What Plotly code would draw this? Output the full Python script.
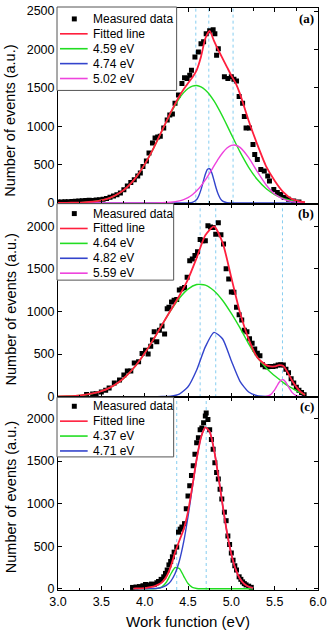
import plotly.graph_objects as go
from plotly.subplots import make_subplots

# ---------------- panel (a) ----------------
wf_a = [3.00, 3.04, 3.08, 3.12, 3.16, 3.20, 3.24, 3.28, 3.32, 3.36, 3.40, 3.44, 3.48, 3.52,
        3.56, 3.60, 3.64, 3.68, 3.72, 3.76, 3.80, 3.84, 3.88, 3.92, 3.95, 3.98, 4.02, 4.05,
        4.09, 4.12, 4.15, 4.18, 4.22, 4.26, 4.29, 4.32, 4.35, 4.39, 4.43, 4.46, 4.49, 4.52,
        4.54, 4.58, 4.62, 4.65, 4.68, 4.71, 4.75, 4.79, 4.81, 4.83, 4.85, 4.92, 4.96, 5.00,
        5.03, 5.06, 5.09, 5.13, 5.15, 5.17, 5.21, 5.25, 5.27, 5.30, 5.34, 5.38, 5.42, 5.44,
        5.49, 5.53, 5.57, 5.61, 5.66, 5.72, 5.78]
counts_a = [12, 12, 14, 15, 18, 20, 25, 28, 30, 35, 30, 38, 40, 48,
            56, 75, 90, 105, 130, 170, 220, 265, 300, 350, 390, 475, 545, 650,
            780, 845, 860, 870, 975, 1080, 1145, 1160, 1300, 1405, 1555, 1630, 1620, 1665,
            1730, 1900, 1965, 2075, 2100, 2205, 2245, 2255, 2205, 1925, 2010, 1645, 1620, 1645,
            1610, 1590, 1385, 1300, 1125, 975, 975, 760, 630, 565, 435, 415, 350, 285,
            175, 135, 110, 70, 47, 26, 13]

grid_a = [3.0, 3.1, 3.2, 3.3, 3.4, 3.5, 3.6, 3.7, 3.8, 3.9, 4.0, 4.1, 4.2, 4.3, 4.4,
          4.45, 4.5, 4.55, 4.6, 4.65, 4.7, 4.75, 4.8, 4.85, 4.9, 4.95, 5.0, 5.05, 5.1,
          5.2, 5.3, 5.4, 5.5, 5.6, 5.7, 5.8, 5.85]
fit_a = [1, 1, 3, 7, 16, 34, 66, 121, 207, 333, 502, 708, 942, 1176, 1389,
         1480, 1560, 1634, 1731, 1906, 2143, 2243, 2110, 1990, 1880, 1770, 1660, 1560, 1420,
         1070, 760, 480, 290, 140, 50, 18, 10]
green_a = [0, 1, 3, 7, 16, 34, 66, 121, 207, 333, 502, 708, 940, 1168, 1363,
           1437, 1491, 1522, 1530, 1512, 1472, 1410, 1328, 1232, 1125, 1010, 893, 777, 665,
           464, 304, 187, 108, 58, 30, 14, 9]
magenta_a = [0, 0, 0, 0, 0, 0, 0, 0, 0, 0, 0, 0, 2, 8, 26,
             43, 69, 106, 157, 221, 299, 388, 481, 573, 654, 715, 749, 752, 724,
             590, 406, 236, 115, 48, 17, 5, 3]
blue_x_a = [3.0, 4.0, 4.4, 4.45, 4.5, 4.55, 4.6, 4.625, 4.65, 4.675, 4.7, 4.725, 4.75,
            4.775, 4.8, 4.825, 4.85, 4.875, 4.9, 4.95, 5.0, 5.3, 5.85]
blue_a = [0, 0, 0, 0, 0.5, 6, 44, 94, 173, 273, 372, 438, 445,
          389, 294, 191, 108, 52, 22, 2, 0, 0, 0]
centers_a = [4.59, 4.74, 5.02]

# ---------------- panel (b) ----------------
wf_b = [3.33, 3.40, 3.44, 3.50, 3.55, 3.59, 3.65, 3.71, 3.76, 3.80, 3.84, 3.88, 3.93, 3.97,
        4.01, 4.04, 4.07, 4.09, 4.11, 4.14, 4.17, 4.20, 4.23, 4.26, 4.28, 4.31, 4.34, 4.37,
        4.40, 4.43, 4.46, 4.49, 4.52, 4.55, 4.58, 4.61, 4.64, 4.67, 4.70, 4.73, 4.76, 4.79,
        4.82, 4.85, 4.88, 4.91, 4.94, 4.97, 5.00, 5.03, 5.06, 5.09, 5.12, 5.15, 5.18, 5.21,
        5.24, 5.27, 5.30, 5.33, 5.36, 5.39, 5.42, 5.45, 5.48, 5.51, 5.54, 5.57, 5.60, 5.63,
        5.66, 5.69, 5.72, 5.75, 5.78, 5.81, 5.84]
counts_b = [25, 30, 35, 55, 75, 100, 160, 195, 255, 300, 300, 395, 410, 505,
            545, 500, 590, 665, 760, 645, 780, 830, 735, 1030, 1050, 1110, 1130, 1140,
            1250, 1265, 1280, 1400, 1595, 1615, 1655, 1700, 1845, 1830, 1830, 2005, 1990, 1985,
            1905, 2040, 1900, 1790, 1500, 1380, 1227, 1225, 1050, 960, 900, 780, 760, 680,
            625, 560, 510, 480, 375, 350, 350, 355, 355, 360, 370, 375, 370, 320,
            280, 210, 160, 110, 75, 50, 23]

grid_b = [3.0, 3.1, 3.2, 3.3, 3.4, 3.5, 3.6, 3.7, 3.8, 3.9, 4.0, 4.1, 4.2, 4.3, 4.4,
          4.5, 4.6, 4.7, 4.8, 4.9, 5.0, 5.1, 5.2, 5.3, 5.4, 5.45, 5.5, 5.55, 5.6, 5.65,
          5.7, 5.75, 5.8, 5.85]
fit_b = [2, 5, 10, 20, 37, 64, 106, 168, 255, 368, 508, 669, 842, 1013, 1184,
         1377, 1628, 1893, 1997, 1804, 1396, 986, 674, 460, 370, 355, 355, 370, 360, 285,
         190, 115, 55, 20]
green_b = [2, 5, 10, 20, 37, 64, 106, 168, 255, 368, 508, 669, 841, 1008, 1154,
           1261, 1315, 1309, 1243, 1128, 976, 806, 620, 460, 340, 290, 245, 205, 165, 130,
           100, 70, 45, 25]
blue_b = [0, 0, 0, 0, 0, 0, 0, 0, 0, 0, 0, 0, 1, 5, 30,
          116, 313, 584, 754, 676, 420, 180, 54, 11, 2, 0, 0, 0, 0, 0,
          0, 0, 0, 0]
magenta_x_b = [3.0, 5.3, 5.4, 5.45, 5.5, 5.525, 5.55, 5.575, 5.6, 5.625, 5.65, 5.675,
               5.7, 5.75, 5.8, 5.85]
magenta_b = [0, 0, 3, 21, 79, 123, 166, 195, 198, 174, 132, 87,
             50, 11, 1, 0]
centers_b = [4.64, 4.82, 5.59]

# ---------------- panel (c) ----------------
wf_c = [3.86, 3.90, 3.94, 3.98, 4.01, 4.05, 4.08, 4.11, 4.14, 4.16, 4.19, 4.22, 4.24, 4.26,
        4.28, 4.30, 4.32, 4.34, 4.37, 4.39, 4.41, 4.43, 4.46, 4.48, 4.50, 4.52, 4.54, 4.56,
        4.58, 4.60, 4.62, 4.64, 4.66, 4.68, 4.70, 4.71, 4.73, 4.75, 4.77, 4.79, 4.81, 4.83,
        4.85, 4.87, 4.89, 4.92, 4.94, 4.96, 4.98, 5.00, 5.02, 5.04, 5.06, 5.09, 5.11, 5.13,
        5.15, 5.17, 5.20, 5.23]
counts_c = [15, 20, 25, 35, 50, 45, 55, 50, 70, 85, 110, 140, 180, 220,
            280, 320, 375, 430, 490, 665, 700, 725, 765, 940, 1090, 1210, 1330, 1445,
            1580, 1715, 1775, 1870, 1890, 1950, 2030, 2065, 1990, 1870, 1755, 1640, 1480, 1365,
            1290, 1170, 1055, 900, 800, 620, 520, 420, 335, 270, 220, 140, 110, 80,
            60, 45, 30, 16]

grid_c = [3.87, 3.9, 4.0, 4.05, 4.1, 4.15, 4.2, 4.25, 4.3, 4.35, 4.4, 4.45, 4.5, 4.55,
          4.6, 4.65, 4.7, 4.75, 4.8, 4.85, 4.9, 4.95, 5.0, 5.05, 5.1, 5.15, 5.2, 5.25]
fit_c = [2, 3, 8, 15, 25, 45, 75, 140, 257, 424, 564, 699, 907, 1204,
         1525, 1779, 1896, 1846, 1637, 1326, 980, 661, 406, 228, 117, 55, 23, 9]
green_c = [0, 0, 0, 0, 0.5, 4, 22, 76, 170, 248, 238, 149, 61, 16,
           3, 0, 0, 0, 0, 0, 0, 0, 0, 0, 0, 0, 0, 0]
blue_c = [0, 0, 0, 1, 2, 6, 16, 39, 87, 176, 326, 550, 846, 1188,
          1522, 1779, 1896, 1846, 1637, 1326, 980, 661, 406, 228, 117, 55, 23, 9]
centers_c = [4.37, 4.71]

RED = "#ff1f3d"
GREEN = "#22dd22"
BLUE = "#3344cc"
MAGENTA = "#ee44dd"
DOT = "#86cdf0"
FONT = "Arial, Liberation Sans, sans-serif"

W, H = 331, 633
L, R, T, B = 58, 10, 4, 43


def px_x(px):
    return (px - L) / (W - L - R)


def px_y(py):
    return (H - B - py) / (H - T - B)


fig = make_subplots(rows=3, cols=1, shared_xaxes=True, vertical_spacing=0)


def line(x, y, color, width):
    return go.Scatter(x=x, y=y, mode="lines", line=dict(color=color, width=width, shape="spline", smoothing=0.6),
                      showlegend=False, hoverinfo="skip")


def pts(x, y):
    return go.Scatter(x=x, y=y, mode="markers", marker=dict(symbol="square", size=5, color="black"),
                      showlegend=False)


panels = [
    (1, wf_a, counts_a, [(grid_a, green_a, GREEN), (blue_x_a, blue_a, BLUE), (grid_a, magenta_a, MAGENTA),
                         (grid_a, fit_a, RED)], centers_a),
    (2, wf_b, counts_b, [(grid_b, green_b, GREEN), (grid_b, blue_b, BLUE), (magenta_x_b, magenta_b, MAGENTA),
                         (grid_b, fit_b, RED)], centers_b),
    (3, wf_c, counts_c, [(grid_c, green_c, GREEN), (grid_c, blue_c, BLUE), (grid_c, fit_c, RED)], centers_c),
]

for row, wx, wy, curves, centers in panels:
    fig.add_trace(pts(wx, wy), row=row, col=1)
    for cx, cy, col in curves:
        fig.add_trace(line(cx, cy, col, 1.8 if col == RED else 1.4), row=row, col=1)
    for c in centers:
        fig.add_vline(x=c, row=row, col=1, line=dict(color=DOT, width=1, dash="dot"), layer="below")

# panel geometry in pixels
doms = [[px_y(201), 1], [px_y(396), px_y(201)], [0, px_y(396)]]
yranges = [[-10, 2540], [-8, 2264], [-15, 2250]]

axis_common = dict(showline=True, linecolor="black", linewidth=1, mirror="ticks", ticks="inside",
                   ticklen=4, tickcolor="black", showgrid=False, zeroline=False,
                   tickfont=dict(family=FONT, size=12.5, color="black"))

for i in range(3):
    fig.update_yaxes(domain=doms[i], range=yranges[i], dtick=500, tick0=0,
                     row=i + 1, col=1, **axis_common)
    fig.update_xaxes(range=[3.0, 6.0], dtick=0.5, tick0=3.0, tickformat=".1f",
                     minor=dict(ticks="inside", dtick=0.25, ticklen=2.5, tickcolor="black"),
                     row=i + 1, col=1, **axis_common)

fig.update_xaxes(ticklabelstandoff=0, row=3, col=1)

# hand drawn legends
legends = [
    (3, 15, 87, 178, ["Fitted line"] + [f"{c:.2f} eV" for c in centers_a], [RED, GREEN, BLUE, MAGENTA]),
    (201, 211, 278, 175, ["Fitted line"] + [f"{c:.2f} eV" for c in centers_b], [RED, GREEN, BLUE, MAGENTA]),
    (396, 405, 456, 175, ["Fitted line"] + [f"{c:.2f} eV" for c in centers_c], [RED, GREEN, BLUE]),
]
shapes = []
annots = []
for top, first, bot, right, labels, colors in legends:
    shapes.append(dict(type="rect", xref="paper", yref="paper", x0=px_x(57), x1=px_x(right),
                       y0=px_y(bot), y1=px_y(top), line=dict(color="#555", width=1), fillcolor="white",
                       layer="above"))
    shapes.append(dict(type="rect", xref="paper", yref="paper", x0=px_x(72), x1=px_x(77),
                       y0=px_y(first + 2.5), y1=px_y(first - 2.5), line=dict(width=0), fillcolor="black",
                       layer="above"))
    annots.append(dict(xref="paper", yref="paper", x=px_x(91), y=px_y(first), text="Measured data",
                       showarrow=False, xanchor="left", yanchor="middle",
                       font=dict(family=FONT, size=12, color="black")))
    for k, (lab, col) in enumerate(zip(labels, colors)):
        yy = first + 15 * (k + 1)
        shapes.append(dict(type="line", xref="paper", yref="paper", x0=px_x(60), x1=px_x(88),
                           y0=px_y(yy), y1=px_y(yy), line=dict(color=col, width=1.6), layer="above"))
        annots.append(dict(xref="paper", yref="paper", x=px_x(91), y=px_y(yy), text=lab,
                           showarrow=False, xanchor="left", yanchor="middle",
                           font=dict(family=FONT, size=12, color="black")))

for lab, yy in zip(["(a)", "(b)", "(c)"], [15, 211, 405]):
    annots.append(dict(xref="paper", yref="paper", x=px_x(319), y=px_y(yy), text=f"<b>{lab}</b>",
                       showarrow=False, xanchor="right", yanchor="middle",
                       font=dict(family="Times New Roman, Liberation Serif, serif", size=13, color="black")))

# axis titles
for yy in [118, 308, 497]:
    annots.append(dict(xref="paper", yref="paper", x=px_x(10), y=px_y(yy), text="Number of events (a.u.)",
                       showarrow=False, xanchor="center", yanchor="middle", textangle=-90,
                       font=dict(family=FONT, size=14.5, color="black")))
annots.append(dict(xref="paper", yref="paper", x=px_x(189.5), y=px_y(621.5), text="Work function (eV)",
                   showarrow=False, xanchor="center", yanchor="middle",
                   font=dict(family=FONT, size=15, color="black")))

fig.update_layout(
    width=W, height=H,
    margin=dict(l=L, r=R, t=T, b=B),
    plot_bgcolor="white", paper_bgcolor="white",
    showlegend=False,
    shapes=list(fig.layout.shapes) + shapes,
    annotations=annots,
    font=dict(family=FONT, color="black"),
)

# the page body has a default margin; drop it so the figure fills the window exactly
fig.write_html("out.html", config={"displayModeBar": False},
               post_script="document.body.style.margin='0px';")
